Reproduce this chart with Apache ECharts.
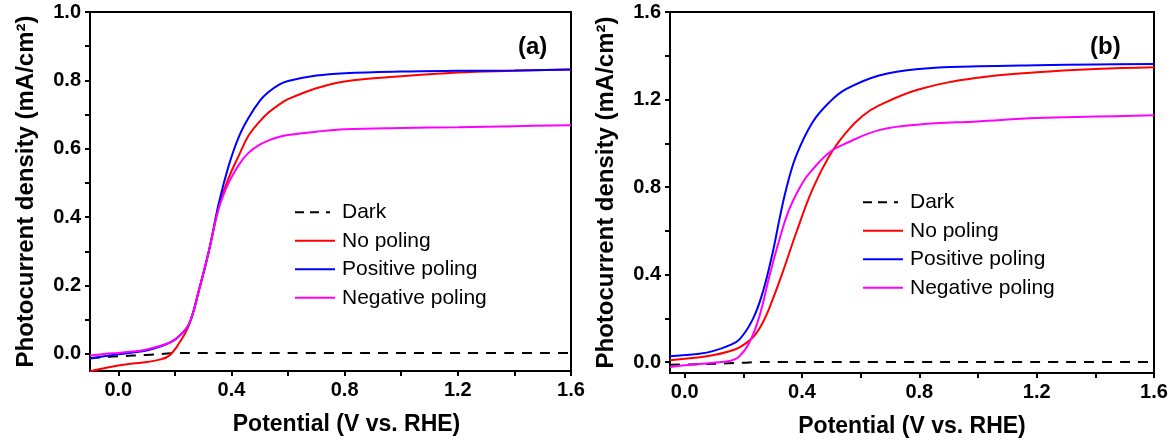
<!DOCTYPE html>
<html lang="en">
<head>
    <meta charset="UTF-8">
    <title>Photocurrent density vs potential</title>
    <script type="text/javascript" src="https://cdn.jsdelivr.net/npm/echarts@6/dist/echarts.min.js"></script>
    <style>
        body{ margin: 0; background: #fff; }
        #main{ width: 1174px; height: 444px; }
    </style>
</head>
<body>
<div id="main"></div>
</body>
<script>
    // ---- data ----
    // panel (a)
    let aDarkX = [-0.1, 0, 0.1, 0.2, 0.3, 1.6];
    let aDarkY = [-0.012, -0.007, -0.003, 0.002, 0.003, 0.003];

    let aNoX = [-0.1, -0.05, 0, 0.05, 0.1, 0.15, 0.18, 0.21, 0.25, 0.285, 0.32, 0.355, 0.39, 0.426, 0.46, 0.5, 0.53, 0.57, 0.6, 0.7, 0.8, 1.0, 1.2, 1.4, 1.6];
    let aNoY = [-0.051, -0.042, -0.034, -0.028, -0.024, -0.016, -0.005, 0.025, 0.085, 0.186, 0.30, 0.43, 0.515, 0.58, 0.638, 0.68, 0.705, 0.73, 0.745, 0.777, 0.797, 0.812, 0.823, 0.828, 0.832];

    let aPosX = [-0.1, -0.05, 0, 0.05, 0.1, 0.15, 0.18, 0.21, 0.25, 0.285, 0.32, 0.355, 0.39, 0.426, 0.46, 0.5, 0.53, 0.57, 0.6, 0.7, 0.8, 1.0, 1.2, 1.4, 1.6];
    let aPosY = [-0.014, -0.007, -0.001, 0.004, 0.01, 0.022, 0.032, 0.048, 0.088, 0.186, 0.30, 0.44, 0.55, 0.635, 0.69, 0.74, 0.765, 0.788, 0.798, 0.814, 0.821, 0.826, 0.828, 0.829, 0.832];

    let aNegX = [-0.1, -0.05, 0, 0.05, 0.1, 0.15, 0.18, 0.21, 0.25, 0.285, 0.32, 0.355, 0.39, 0.426, 0.46, 0.5, 0.53, 0.57, 0.6, 0.7, 0.8, 1.0, 1.2, 1.4, 1.6];
    let aNegY = [-0.005, 0.0, 0.003, 0.007, 0.013, 0.024, 0.033, 0.049, 0.088, 0.186, 0.30, 0.425, 0.50, 0.553, 0.588, 0.612, 0.624, 0.635, 0.64, 0.65, 0.657, 0.661, 0.663, 0.666, 0.669];

    // panel (b)
    let bDarkX = [-0.05, 0.1, 0.2, 0.25, 1.6];
    let bDarkY = [-0.012, -0.008, -0.003, 0.0, 0.0];

    let bNoX = [-0.05, 0, 0.05, 0.096, 0.15, 0.187, 0.232, 0.266, 0.30, 0.334, 0.38, 0.436, 0.493, 0.55, 0.606, 0.663, 0.8, 1.0, 1.2, 1.4, 1.6];
    let bNoY = [0.008, 0.015, 0.022, 0.031, 0.048, 0.067, 0.112, 0.18, 0.286, 0.41, 0.59, 0.79, 0.942, 1.049, 1.125, 1.173, 1.247, 1.30, 1.325, 1.34, 1.348];

    let bPosX = [-0.05, 0, 0.05, 0.096, 0.15, 0.187, 0.232, 0.266, 0.30, 0.323, 0.346, 0.38, 0.436, 0.493, 0.55, 0.663, 0.8, 1.0, 1.2, 1.4, 1.6];
    let bPosY = [0.027, 0.032, 0.038, 0.05, 0.075, 0.104, 0.195, 0.318, 0.50, 0.652, 0.79, 0.942, 1.096, 1.187, 1.247, 1.31, 1.34, 1.352, 1.357, 1.36, 1.362];

    let bNegX = [-0.05, 0, 0.05, 0.096, 0.153, 0.187, 0.221, 0.255, 0.289, 0.323, 0.357, 0.402, 0.436, 0.493, 0.55, 0.663, 0.8, 1.0, 1.2, 1.4, 1.6];
    let bNegY = [-0.023, -0.015, -0.009, -0.003, 0.005, 0.027, 0.09, 0.21, 0.393, 0.56, 0.70, 0.82, 0.88, 0.958, 1.0, 1.06, 1.086, 1.10, 1.115, 1.122, 1.128];

    // tick values (labels on the major ones, ticks on both)
    let xMajor = [0, 0.4, 0.8, 1.2, 1.6];
    let xTicks = [0, 0.2, 0.4, 0.6, 0.8, 1.0, 1.2, 1.4, 1.6];
    let aYMajor = [0, 0.2, 0.4, 0.6, 0.8, 1.0];
    let aYTicks = [0, 0.1, 0.2, 0.3, 0.4, 0.5, 0.6, 0.7, 0.8, 0.9, 1.0];
    let bYMajor = [0, 0.4, 0.8, 1.2, 1.6];
    let bYTicks = [0, 0.2, 0.4, 0.6, 0.8, 1.0, 1.2, 1.4, 1.6];

    let names = ['Dark', 'No poling', 'Positive poling', 'Negative poling'];
    let colors = ['#000000', '#ff0000', '#0000ff', '#ff00ff'];

    function zip(xs, ys) {
        return xs.map(function (x, i) { return [x, ys[i]]; });
    }

    var font = '"Liberation Sans", Arial, sans-serif';
    // legend icons: plain line, and three dashes for Dark
    var solidIcon = 'path://M0,0h40v2h-40z';
    var dashIcon = 'path://M0,0h9v2h-9z M15,0h9v2h-9z M31,0h4v2h-4z M40,0h0v2h0z';

    function xAxisOf(grid, min, majors, ticks, nameOffset) {
        return {
            type: 'value', gridIndex: grid, min: min, max: 1.6, position: 'bottom',
            splitLine: {show: false},
            axisLine: {onZero: false, lineStyle: {color: '#000', width: 2}},
            axisTick: {customValues: ticks, length: 5, lineStyle: {color: '#000', width: 2}},
            axisLabel: {customValues: majors, margin: 9, color: '#000', fontSize: 20, fontWeight: 'bold',
                fontFamily: font, formatter: function (v) { return v.toFixed(1); }},
            name: 'Potential (V vs. RHE)', nameLocation: 'middle', nameGap: 42,
            nameTextStyle: {color: '#000', fontSize: 23, fontWeight: 'bold', fontFamily: font,
                padding: [0, 0, 0, nameOffset]}
        };
    }
    function yAxisOf(grid, min, max, majors, ticks) {
        return {
            type: 'value', gridIndex: grid, min: min, max: max, position: 'left',
            splitLine: {show: false},
            axisLine: {onZero: false, lineStyle: {color: '#000', width: 2}},
            axisTick: {customValues: ticks, length: 5, lineStyle: {color: '#000', width: 2}},
            axisLabel: {customValues: majors, margin: 9, color: '#000', fontSize: 20, fontWeight: 'bold',
                fontFamily: font, formatter: function (v) { return v.toFixed(1); }},
            name: 'Photocurrent density (mA/cm²)', nameLocation: 'middle', nameGap: 52,
            nameTextStyle: {color: '#000', fontSize: 24, fontWeight: 'bold', fontFamily: font}
        };
    }

    function line(name, data, axis, color, dashed) {
        return {
            name: name, type: 'line', data: data,
            xAxisIndex: axis, yAxisIndex: axis,
            symbol: 'none', showSymbol: false, smooth: 0.4,
            lineStyle: {color: color, width: 2, type: dashed ? [10, 8] : 'solid'},
            itemStyle: {color: color},
            animation: false, silent: true
        };
    }

    function legendData() {
        return names.map(function (n, i) {
            return {name: n, icon: i === 0 ? dashIcon : solidIcon, itemStyle: {color: colors[i]}};
        });
    }
    function legend(left, top) {
        return {
            data: legendData(), orient: 'vertical', left: left, top: top,
            itemWidth: 40, itemHeight: 2, itemGap: 6, symbolKeepAspect: false,
            selectedMode: false,
            textStyle: {fontSize: 21, fontFamily: font, color: '#000', lineHeight: 22.5, padding: [0, 0, 0, 2]}
        };
    }

    var chartDom = document.getElementById('main');
    var myChart = echarts.init(chartDom);
    var option = {
        animation: false,
        grid: [
            {left: 90, right: 603, top: 12, bottom: 73, show: true, borderColor: '#000', borderWidth: 2},
            {left: 670, right: 20, top: 12, bottom: 71, show: true, borderColor: '#000', borderWidth: 2}
        ],
        xAxis: [xAxisOf(0, -0.1, xMajor, xTicks, 32), xAxisOf(1, -0.05, xMajor, xTicks, 0)],
        yAxis: [yAxisOf(0, -0.05, 1.0, aYMajor, aYTicks), yAxisOf(1, -0.05, 1.6, bYMajor, bYTicks)],
        legend: [legend(290, 196), legend(858, 186)],
        title: [
            {text: '(a)', left: 513, top: 30, textStyle: {fontSize: 24, fontWeight: 'bold', fontFamily: font, color: '#000'}},
            {text: '(b)', left: 1085, top: 30, textStyle: {fontSize: 24, fontWeight: 'bold', fontFamily: font, color: '#000'}}
        ],
        series: [
            line('Dark', zip(aDarkX, aDarkY), 0, colors[0], true),
            line('No poling', zip(aNoX, aNoY), 0, colors[1]),
            line('Positive poling', zip(aPosX, aPosY), 0, colors[2]),
            line('Negative poling', zip(aNegX, aNegY), 0, colors[3]),
            line('Dark', zip(bDarkX, bDarkY), 1, colors[0], true),
            line('No poling', zip(bNoX, bNoY), 1, colors[1]),
            line('Positive poling', zip(bPosX, bPosY), 1, colors[2]),
            line('Negative poling', zip(bNegX, bNegY), 1, colors[3])
        ]
    };
    myChart.setOption(option);
</script>
</html>
